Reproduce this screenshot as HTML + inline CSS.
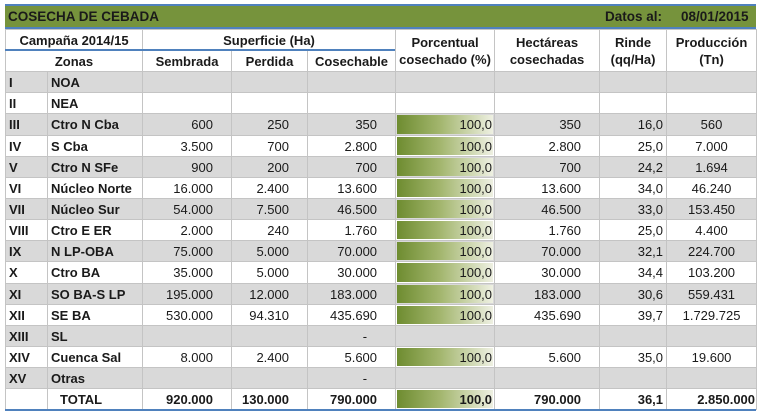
<!DOCTYPE html>
<html><head><meta charset="utf-8"><style>
body{margin:0;width:762px;height:413px;background:#fff;position:relative;overflow:hidden;font-family:"Liberation Sans",sans-serif;color:#1a1a1a}
.title{position:absolute;left:5px;top:4px;width:751px;height:21px;background:#76933c;border-top:2px solid #4f81bd;border-bottom:2px solid #4f81bd;font-weight:bold;font-size:13.5px;line-height:21px}
.title span{position:absolute}
table{position:absolute;left:5px;top:29px;border-collapse:collapse;table-layout:fixed;width:751px;font-size:13px}
td{border:1px solid #c4c4c4;padding:0;white-space:nowrap;overflow:hidden}
tr.g td{background:#d9d9d9}
tr.w td{background:#fff}
.h td{font-weight:bold;text-align:center;background:#fff;line-height:17px}
td.b{font-weight:bold;padding-left:3px}
td.r{text-align:right;padding-right:18px}
td.rp{text-align:right;padding-right:2px;position:relative}
td.rr{text-align:right;padding-right:3px}
td.c{text-align:center}
.bar{position:absolute;left:1px;right:1px;top:1px;bottom:1px;background:linear-gradient(to right,#6e8c30,#a3b66e 45%,#eef0e2)}
.bar+span{position:relative}
.tot td{font-weight:bold}
.bl{position:absolute;background:#4f81bd;height:2px}
</style></head><body>
<div class="title"><span style="left:3px">COSECHA DE CEBADA</span><span style="left:600px">Datos al:</span><span style="left:676px">08/01/2015</span></div>
<table>
<colgroup><col style="width:42px"><col style="width:95px"><col style="width:89px"><col style="width:76px"><col style="width:88px"><col style="width:99px"><col style="width:105px"><col style="width:67px"><col style="width:90px"></colgroup>
<tr class="h" style="height:21px"><td colspan="2">Campaña 2014/15</td><td colspan="3">Superficie (Ha)</td><td rowspan="2">Porcentual<br>cosechado (%)</td><td rowspan="2">Hectáreas<br>cosechadas</td><td rowspan="2">Rinde<br>(qq/Ha)</td><td rowspan="2">Producción<br>(Tn)</td></tr>
<tr class="h" style="height:21px"><td colspan="2">Zonas</td><td>Sembrada</td><td>Perdida</td><td>Cosechable</td></tr>
<tr class="g" style="height:21px"><td class="b">I</td><td class="b">NOA</td><td></td><td></td><td></td><td></td><td></td><td></td><td></td></tr>
<tr class="w" style="height:21px"><td class="b">II</td><td class="b">NEA</td><td></td><td></td><td></td><td></td><td></td><td></td><td></td></tr>
<tr class="g" style="height:22px"><td class="b">III</td><td class="b">Ctro N Cba</td><td class="r">600</td><td class="r">250</td><td class="r">350</td><td class="rp"><div class="bar"></div><span>100,0</span></td><td class="r">350</td><td class="rr">16,0</td><td class="c">560</td></tr>
<tr class="w" style="height:21px"><td class="b">IV</td><td class="b">S Cba</td><td class="r">3.500</td><td class="r">700</td><td class="r">2.800</td><td class="rp"><div class="bar"></div><span>100,0</span></td><td class="r">2.800</td><td class="rr">25,0</td><td class="c">7.000</td></tr>
<tr class="g" style="height:21px"><td class="b">V</td><td class="b">Ctro N SFe</td><td class="r">900</td><td class="r">200</td><td class="r">700</td><td class="rp"><div class="bar"></div><span>100,0</span></td><td class="r">700</td><td class="rr">24,2</td><td class="c">1.694</td></tr>
<tr class="w" style="height:21px"><td class="b">VI</td><td class="b">Núcleo Norte</td><td class="r">16.000</td><td class="r">2.400</td><td class="r">13.600</td><td class="rp"><div class="bar"></div><span>100,0</span></td><td class="r">13.600</td><td class="rr">34,0</td><td class="c">46.240</td></tr>
<tr class="g" style="height:21px"><td class="b">VII</td><td class="b">Núcleo Sur</td><td class="r">54.000</td><td class="r">7.500</td><td class="r">46.500</td><td class="rp"><div class="bar"></div><span>100,0</span></td><td class="r">46.500</td><td class="rr">33,0</td><td class="c">153.450</td></tr>
<tr class="w" style="height:21px"><td class="b">VIII</td><td class="b">Ctro E ER</td><td class="r">2.000</td><td class="r">240</td><td class="r">1.760</td><td class="rp"><div class="bar"></div><span>100,0</span></td><td class="r">1.760</td><td class="rr">25,0</td><td class="c">4.400</td></tr>
<tr class="g" style="height:21px"><td class="b">IX</td><td class="b">N LP-OBA</td><td class="r">75.000</td><td class="r">5.000</td><td class="r">70.000</td><td class="rp"><div class="bar"></div><span>100,0</span></td><td class="r">70.000</td><td class="rr">32,1</td><td class="c">224.700</td></tr>
<tr class="w" style="height:22px"><td class="b">X</td><td class="b">Ctro BA</td><td class="r">35.000</td><td class="r">5.000</td><td class="r">30.000</td><td class="rp"><div class="bar"></div><span>100,0</span></td><td class="r">30.000</td><td class="rr">34,4</td><td class="c">103.200</td></tr>
<tr class="g" style="height:21px"><td class="b">XI</td><td class="b">SO BA-S LP</td><td class="r">195.000</td><td class="r">12.000</td><td class="r">183.000</td><td class="rp"><div class="bar"></div><span>100,0</span></td><td class="r">183.000</td><td class="rr">30,6</td><td class="c">559.431</td></tr>
<tr class="w" style="height:21px"><td class="b">XII</td><td class="b">SE BA</td><td class="r">530.000</td><td class="r">94.310</td><td class="r">435.690</td><td class="rp"><div class="bar"></div><span>100,0</span></td><td class="r">435.690</td><td class="rr">39,7</td><td class="c">1.729.725</td></tr>
<tr class="g" style="height:21px"><td class="b">XIII</td><td class="b">SL</td><td></td><td></td><td class="r" style="padding-right:28px">-</td><td></td><td></td><td></td><td></td></tr>
<tr class="w" style="height:21px"><td class="b">XIV</td><td class="b">Cuenca Sal</td><td class="r">8.000</td><td class="r">2.400</td><td class="r">5.600</td><td class="rp"><div class="bar"></div><span>100,0</span></td><td class="r">5.600</td><td class="rr">35,0</td><td class="c">19.600</td></tr>
<tr class="g" style="height:21px"><td class="b">XV</td><td class="b">Otras</td><td></td><td></td><td class="r" style="padding-right:28px">-</td><td></td><td></td><td></td><td></td></tr>
<tr class="w tot" style="height:21px"><td></td><td style="padding-left:12px">TOTAL</td><td class="r">920.000</td><td class="r">130.000</td><td class="r">790.000</td><td class="rp"><div class="bar"></div><span>100,0</span></td><td class="r">790.000</td><td class="rr">36,1</td><td class="rr" style="padding-right:1px">2.850.000</td></tr>
</table>
<div class="bl" style="left:5px;top:49px;width:390px"></div>
<div class="bl" style="left:5px;top:409px;width:751px"></div>
</body></html>
